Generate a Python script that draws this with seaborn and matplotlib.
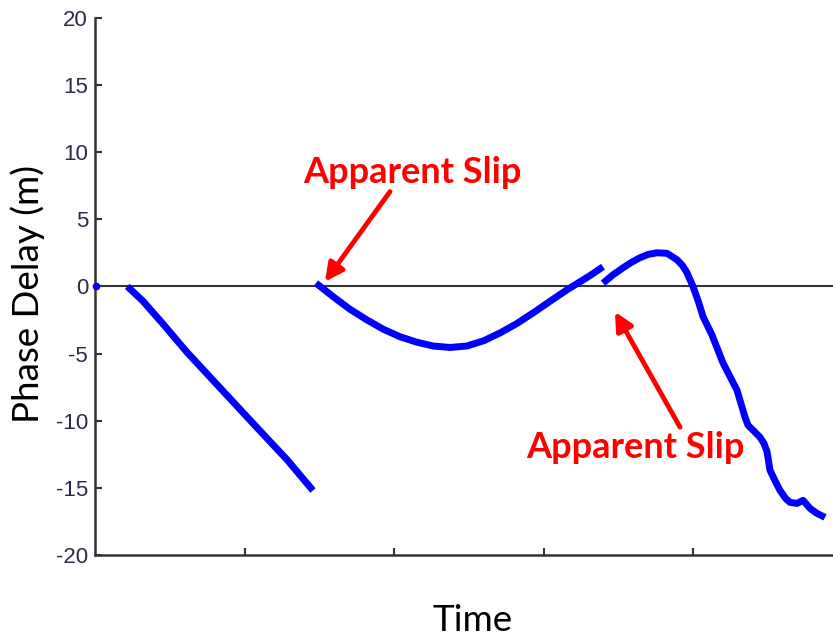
import matplotlib
matplotlib.use("Agg")
import matplotlib.pyplot as plt
import seaborn as sns
import numpy as np
import pandas as pd

# ---- data (time in tick units) ----
dot_t = [0.01]
dot_v = [0.0]

seg1_t = [0.216, 0.321, 0.455, 0.615, 0.836, 1.057, 1.284, 1.458]
seg1_v = [0.0, -1.1, -2.8, -4.9, -7.55, -10.2, -12.9, -15.2]

seg2_t = [1.478, 1.592, 1.705, 1.819, 1.930, 2.040, 2.150, 2.261, 2.375, 2.488, 2.600,
          2.709, 2.820, 2.930, 3.045, 3.157, 3.224, 3.311, 3.398]
seg2_v = [0.24, -0.76, -1.7, -2.5, -3.2, -3.75, -4.15, -4.44, -4.55, -4.44, -4.05,
          -3.47, -2.78, -1.98, -1.1, -0.26, 0.2, 0.8, 1.46]

seg3_t = [3.398, 3.465, 3.532, 3.590, 3.645, 3.700, 3.759, 3.826, 3.893, 3.930, 3.960,
          4.000, 4.035, 4.067, 4.127, 4.201, 4.294, 4.348, 4.368, 4.410, 4.448, 4.475,
          4.495, 4.515, 4.550, 4.582, 4.620, 4.649, 4.696, 4.736, 4.783, 4.829, 4.883]
seg3_v = [0.24, 0.86, 1.38, 1.8, 2.13, 2.38, 2.5, 2.46, 1.98, 1.55, 1.01,
          -0.01, -1.1, -2.25, -3.62, -5.71, -7.72, -9.74, -10.34, -10.8, -11.23, -11.7,
          -12.3, -13.69, -14.5, -15.19, -15.8, -16.08, -16.16, -15.93, -16.53, -16.9, -17.2]

y_ticks = [-20, -15, -10, -5, 0, 5, 10, 15, 20]
x_ticks = [1, 2, 3, 4]

label_text = "Apparent Slip"
ann1_text_pos = (2.12, 8.5)
ann1_tail = (1.973, 7.05)
ann1_tip = (1.538, 0.34)
ann2_text_pos = (3.612, -12.0)
ann2_tail = (3.913, -10.48)
ann2_tip = (3.478, -1.9)

# ---- figure ----
sns.set_theme(style="white")
plt.rcParams['font.family'] = ['Liberation Sans', 'DejaVu Sans']

fig = plt.figure(figsize=(8.33, 6.41), dpi=100)
ax = fig.add_axes([95/833, 1-555/641, 1-95/833, (555-17.7)/641])

blue = "#0000FF"
for t, v in [(seg1_t, seg1_v), (seg2_t, seg2_v), (seg3_t, seg3_v)]:
    df = pd.DataFrame({"t": t, "v": v})
    sns.lineplot(data=df, x="t", y="v", color=blue, lw=5, sort=False, ax=ax,
                 solid_capstyle="butt")
ax.plot(dot_t, dot_v, "o", color=blue, ms=4.5, clip_on=False, zorder=5)

ax.axhline(0, color="#333333", lw=1.5, zorder=1)

ax.set_xlim(0, (833-95)/149.5)
ax.set_ylim(-20, 20)
ax.set_yticks(y_ticks)
ax.set_yticklabels([str(v) for v in y_ticks])
ax.set_xticks(x_ticks)
ax.set_xticklabels([])

for s in ["top", "right"]:
    ax.spines[s].set_visible(False)
for s in ["left", "bottom"]:
    ax.spines[s].set_color("#333333")
    ax.spines[s].set_linewidth(1.8)

ax.tick_params(axis="both", direction="in", length=5, width=1.5, color="#333333",
               left=True, bottom=True)
ax.tick_params(axis="y", labelsize=16, labelcolor="#2a2a4a", pad=5)

ax.set_xlabel("Time", fontsize=26.5, family=["Lato", "DejaVu Sans"], color="black")
ax.xaxis.set_label_coords(0.512, -0.121)
ax.xaxis.label.set_va("center")
ax.set_ylabel("Phase Delay (m)", fontsize=26.5, family=["Lato", "DejaVu Sans"], color="black")
ax.yaxis.set_label_coords(-0.091, 0.486)
ax.yaxis.label.set_va("center")

red = "#FF0000"
for pos, tail, tip in [(ann1_text_pos, ann1_tail, ann1_tip), (ann2_text_pos, ann2_tail, ann2_tip)]:
    ax.text(pos[0], pos[1], label_text, color=red, fontsize=26, fontweight="bold",
            family=["Lato", "DejaVu Sans"], ha="center", va="center")
    ax.annotate("", xy=tip, xytext=tail, xycoords="data", textcoords="data",
                arrowprops=dict(arrowstyle="-|>,head_length=0.9,head_width=0.45",
                                color=red, lw=3.5, shrinkA=0, shrinkB=0))

fig.savefig("out.png", dpi=100)
